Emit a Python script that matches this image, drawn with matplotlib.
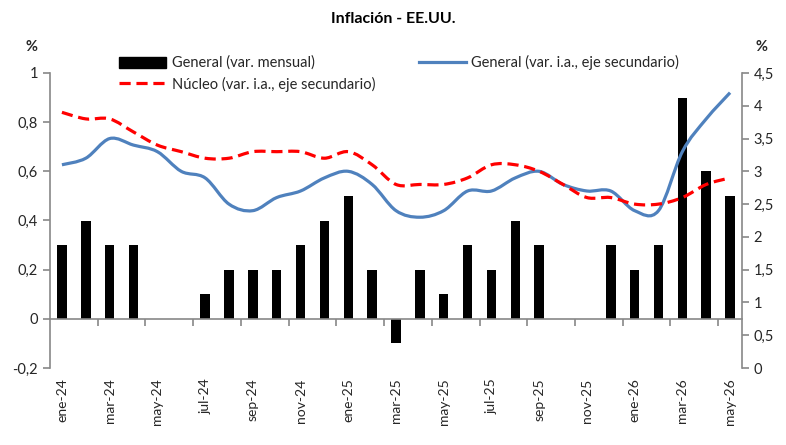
import numpy as np
import matplotlib
matplotlib.use("Agg")
import matplotlib.pyplot as plt
from matplotlib.path import Path
from matplotlib.patches import PathPatch
from matplotlib.lines import Line2D
from matplotlib.patches import Patch
from matplotlib.ticker import FuncFormatter

plt.rcParams['font.family'] = ['Lato', 'DejaVu Sans']

meses = ['ene-24', 'feb-24', 'mar-24', 'abr-24', 'may-24', 'jun-24', 'jul-24', 'ago-24',
         'sep-24', 'oct-24', 'nov-24', 'dic-24', 'ene-25', 'feb-25', 'mar-25', 'abr-25',
         'may-25', 'jun-25', 'jul-25', 'ago-25', 'sep-25', 'oct-25', 'nov-25', 'dic-25',
         'ene-26', 'feb-26', 'mar-26', 'abr-26', 'may-26']

# variacion mensual (eje principal)
general_mensual = [0.3, 0.4, 0.3, 0.3, 0.0, 0.0, 0.1, 0.2, 0.2, 0.2, 0.3, 0.4, 0.5, 0.2,
                   -0.1, 0.2, 0.1, 0.3, 0.2, 0.4, 0.3, 0.0, 0.0, 0.3, 0.2, 0.3, 0.9, 0.6, 0.5]

# variacion interanual (eje secundario)
general_ia = [3.1, 3.2, 3.5, 3.4, 3.3, 3.0, 2.9, 2.5, 2.4, 2.6, 2.7, 2.9, 3.0, 2.8,
              2.4, 2.3, 2.4, 2.7, 2.7, 2.9, 3.0, 2.8, 2.7, 2.7, 2.4, 2.4, 3.3, 3.8, 4.2]
nucleo_ia = [3.9, 3.8, 3.8, 3.6, 3.4, 3.3, 3.2, 3.2, 3.3, 3.3, 3.3, 3.2, 3.3, 3.1,
             2.8, 2.8, 2.8, 2.9, 3.1, 3.1, 3.0, 2.8, 2.6, 2.6, 2.5, 2.5, 2.6, 2.8, 2.9]


def curva_suave(x, y):
    # linea suavizada tipo Excel (bezier cubica tipo Catmull-Rom)
    pts = np.column_stack([x, y]).astype(float)
    n = len(pts)
    verts = [pts[0]]
    codes = [Path.MOVETO]
    for i in range(n - 1):
        p0 = pts[i - 1] if i > 0 else pts[i]
        p1 = pts[i]
        p2 = pts[i + 1]
        p3 = pts[i + 2] if i + 2 < n else pts[i + 1]
        c1 = p1 + (p2 - p0) / 6.0
        c2 = p2 - (p3 - p1) / 6.0
        verts += [c1, c2, p2]
        codes += [Path.CURVE4] * 3
    return Path(verts, codes)


x = np.arange(len(meses))
gris = '#888888'
texto = '#262626'

fig = plt.figure(figsize=(7.86, 4.45), dpi=100)
ax = fig.add_axes([50 / 786, 1 - 368 / 445, 692 / 786, 295 / 445])
ax2 = ax.twinx()

ax.bar(x, general_mensual, width=0.4, color='black', linewidth=0)
ax.set_xlim(-0.5, len(meses) - 0.5)
ax.set_ylim(-0.2, 1.0)
ax.set_yticks(np.arange(-0.2, 1.01, 0.2))
coma = FuncFormatter(lambda v, p: ('%g' % round(v, 2)).replace('.', ','))
ax.yaxis.set_major_formatter(coma)

ax.spines['top'].set_visible(False)
ax.spines['right'].set_visible(False)
ax.spines['left'].set_color(gris)
ax.spines['bottom'].set_color(gris)
ax.spines['bottom'].set_position(('data', 0))
ax.spines['left'].set_linewidth(1.2)
ax.spines['bottom'].set_linewidth(1.2)

ax.set_xticks(x[::2])
ax.set_xticklabels(meses[::2], rotation=90, va='top', ha='center')
ax.set_xticks(np.arange(1.5, len(meses) - 1, 2), minor=True)
ax.tick_params(axis='x', which='major', length=0, pad=43, labelsize=10, colors=texto)
ax.tick_params(axis='x', which='minor', length=5, direction='out', color=gris, width=1.2)
ax.tick_params(axis='y', length=5, direction='out', color=gris, width=1.2,
               labelsize=10.5, labelcolor=texto)

ax2.add_patch(PathPatch(curva_suave(x, general_ia), facecolor='none',
                        edgecolor='#4F81BD', linewidth=2.3))
ax2.add_patch(PathPatch(curva_suave(x, nucleo_ia), facecolor='none',
                        edgecolor='#FF0000', linewidth=2.3, linestyle=(0, (3.5, 1.8))))
ax2.set_ylim(0, 4.5)
ax2.set_yticks(np.arange(0, 4.51, 0.5))
ax2.yaxis.set_major_formatter(coma)
for s in ['top', 'left', 'bottom']:
    ax2.spines[s].set_visible(False)
ax2.spines['right'].set_color(gris)
ax2.spines['right'].set_linewidth(1.2)
ax2.tick_params(axis='y', length=5, direction='out', color=gris, width=1.2,
                labelsize=10.5, labelcolor=texto)

fig.text(393 / 786, 1 - 19 / 445, 'Inflación - EE.UU.', ha='center', va='center',
         fontsize=11.5, fontweight='bold', color='black')
fig.text(31 / 786, 1 - 47 / 445, '%', ha='center', va='center', fontsize=10.5,
         fontweight='bold', color=texto)
fig.text(762 / 786, 1 - 47 / 445, '%', ha='center', va='center', fontsize=10.5,
         fontweight='bold', color=texto)

handles = [Patch(facecolor='black', edgecolor='black'),
           Line2D([], [], color='#FF0000', linewidth=2.3, linestyle=(0, (3.5, 1.8))),
           Line2D([], [], color='#4F81BD', linewidth=2.3)]
labels = ['General (var. mensual)', 'Núcleo (var. i.a., eje secundario)',
          'General (var. i.a., eje secundario)']
leg = fig.legend(handles, labels, loc='upper left', bbox_to_anchor=(106 / 786, 1 - 42 / 445),
                 ncol=2, frameon=False, fontsize=10.5, handlelength=3.2,
                 handleheight=0.8, columnspacing=3.0, labelspacing=0.45,
                 handletextpad=0.4)
for t in leg.get_texts():
    t.set_color(texto)

fig.savefig('out.png', dpi=100)
